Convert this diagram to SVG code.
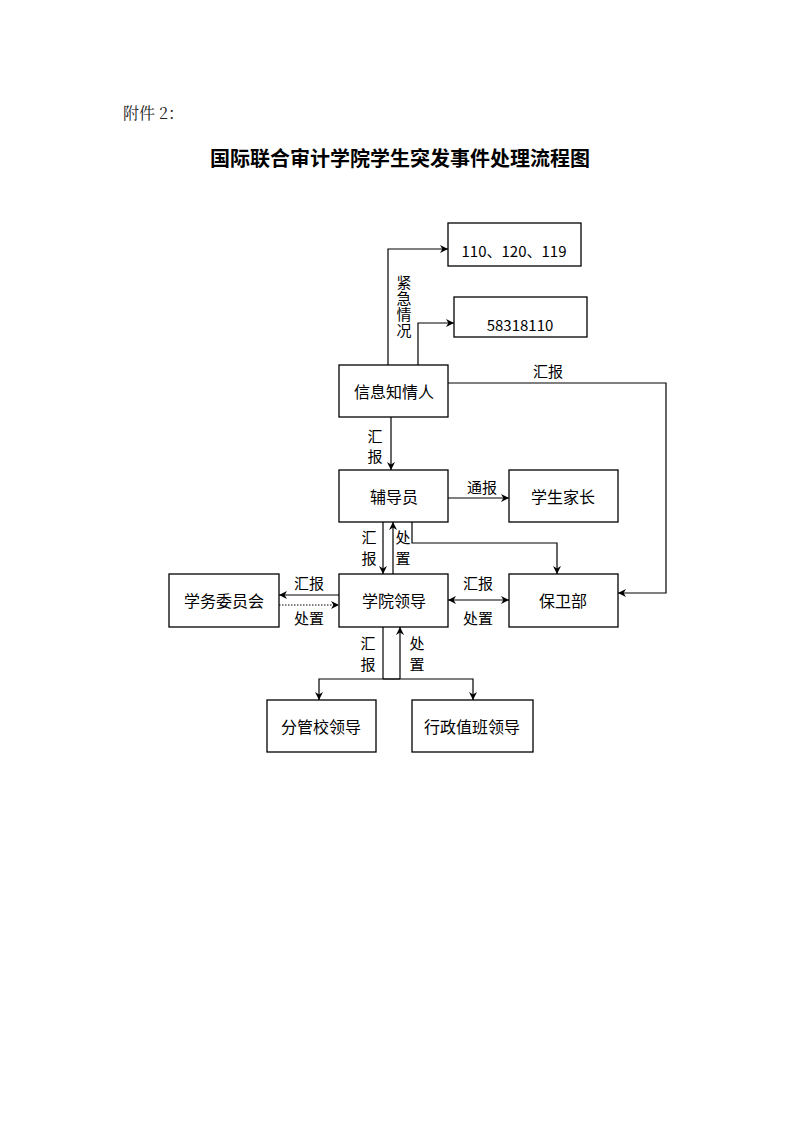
<svg xmlns="http://www.w3.org/2000/svg" width="799" height="1131" viewBox="0 0 799 1131">
<style>
.box{fill:#fff;stroke:#000;stroke-width:1.3}
.t{font-family:"Noto Sans CJK SC","Liberation Sans",sans-serif;font-size:16px;fill:#000;text-anchor:middle;dominant-baseline:central}
.l{font-family:"Noto Sans CJK SC","Liberation Sans",sans-serif;font-size:15px;fill:#000;text-anchor:middle;dominant-baseline:central}
.c{fill:none;stroke:#000;stroke-width:1.2}
</style>
<defs>
<marker id="a" viewBox="0 0 10 10" refX="10" refY="5" markerWidth="8" markerHeight="8" markerUnits="userSpaceOnUse" orient="auto-start-reverse">
<path d="M0,0 L10,5 L0,10 L3,5 Z" fill="#000"/>
</marker>
</defs>
<rect width="799" height="1131" fill="#fff"/>
<text x="123" y="112" font-family="'Noto Serif CJK SC','Noto Sans CJK SC',serif" font-size="16" fill="#222" dominant-baseline="central">附件 2：</text>
<text x="400" y="157" font-family="'Noto Sans CJK SC',sans-serif" font-size="20" font-weight="bold" fill="#000" text-anchor="middle" dominant-baseline="central">国际联合审计学院学生突发事件处理流程图</text>

<g id="connectors">
<path class="c" d="M388,365 V249 H448" marker-end="url(#a)"/>
<path class="c" d="M418,365 V323 H454" marker-end="url(#a)"/>
<path class="c" d="M448,383 H666 V593 H618" marker-end="url(#a)"/>
<path class="c" d="M391,417 V470" marker-end="url(#a)"/>
<path class="c" d="M448,498 H509" marker-end="url(#a)"/>
<path class="c" d="M383,522 V574" marker-end="url(#a)"/>
<path class="c" d="M393,574 V522" marker-end="url(#a)"/>
<path class="c" d="M412,522 V543 H557 V574" marker-end="url(#a)"/>
<path class="c" d="M339,595 H279" marker-end="url(#a)"/>
<path class="c" d="M279,605 H339" stroke-dasharray="1.5,1.5" marker-end="url(#a)"/>
<path class="c" d="M448,600 H509" marker-start="url(#a)" marker-end="url(#a)"/>
<path class="c" d="M383,627 V679"/>
<path class="c" d="M400,679 V627" marker-end="url(#a)"/>
<path class="c" d="M400,679 H319 V700" marker-end="url(#a)"/>
<path class="c" d="M383,679 H473 V700" marker-end="url(#a)"/>
<text x="404" y="275" font-family="'Noto Sans CJK SC',sans-serif" font-size="15" fill="#000" writing-mode="vertical-rl" letter-spacing="1" text-anchor="start">紧急情况</text>
<text class="l" x="548" y="370">汇报</text>
<text class="l" x="375" y="435">汇</text>
<text class="l" x="375" y="455">报</text>
<text class="l" x="482" y="486">通报</text>
<text class="l" x="369" y="536">汇</text>
<text class="l" x="369" y="557">报</text>
<text class="l" x="403" y="536">处</text>
<text class="l" x="403" y="557">置</text>
<text class="l" x="309" y="582">汇报</text>
<text class="l" x="309" y="617">处置</text>
<text class="l" x="478" y="582">汇报</text>
<text class="l" x="478" y="617">处置</text>
<text class="l" x="368" y="642">汇</text>
<text class="l" x="368" y="663">报</text>
<text class="l" x="417" y="642">处</text>
<text class="l" x="417" y="663">置</text>
</g>

<g id="n110"><rect class="box" x="448" y="223" width="133" height="43"/><text class="l" x="514" y="250">110、120、119</text></g>
<g id="n583"><rect class="box" x="454" y="297" width="133" height="40"/><text class="l" x="520" y="324">58318110</text></g>
<g id="xinxi"><rect class="box" x="339" y="365" width="109" height="52"/><text class="t" x="394" y="391">信息知情人</text></g>
<g id="fudaoyuan"><rect class="box" x="339" y="470" width="109" height="52"/><text class="t" x="394" y="496">辅导员</text></g>
<g id="jiazhang"><rect class="box" x="509" y="470" width="109" height="52"/><text class="t" x="563" y="496">学生家长</text></g>
<g id="xuewu"><rect class="box" x="169" y="574" width="110" height="53"/><text class="t" x="224" y="600">学务委员会</text></g>
<g id="xueyuan"><rect class="box" x="339" y="574" width="109" height="53"/><text class="t" x="394" y="600">学院领导</text></g>
<g id="baowei"><rect class="box" x="509" y="574" width="109" height="53"/><text class="t" x="563" y="600">保卫部</text></g>
<g id="fenguan"><rect class="box" x="267" y="700" width="109" height="52"/><text class="t" x="321" y="726">分管校领导</text></g>
<g id="xingzheng"><rect class="box" x="412" y="700" width="121" height="52"/><text class="t" x="472" y="726">行政值班领导</text></g>
</svg>
